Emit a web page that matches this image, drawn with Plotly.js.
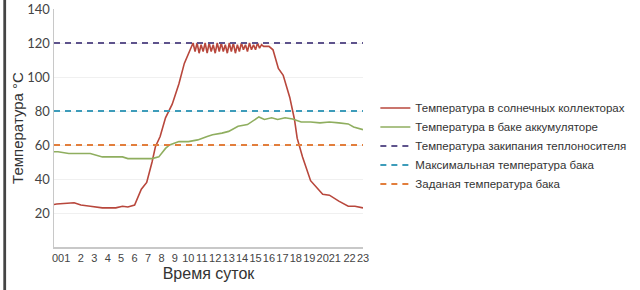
<!DOCTYPE html>
<html>
<head>
<meta charset="utf-8">
<script src="https://cdn.plot.ly/plotly-3.0.1.min.js"></script>
<style>html,body{margin:0;padding:0;background:#fff;}#chart{width:640px;height:290px;}</style>
</head>
<body>
<div id="chart"></div>
<script>
// Temperature in solar collectors (hour, °C)
const collectorHours = [0, 0.2, 1.5, 2.0, 2.7, 3.6, 4.6, 5.1, 5.5, 6.0, 6.5, 6.9, 7.3, 7.55, 7.9, 8.3, 8.8, 9.3, 9.7, 10.2,
  10.35, 10.5, 10.65, 10.8, 10.95, 11.1, 11.25, 11.4, 11.55, 11.7, 11.85, 12.0, 12.15, 12.3, 12.45, 12.6, 12.75, 12.9,
  13.05, 13.2, 13.35, 13.5, 13.65, 13.8, 13.95, 14.1, 14.25, 14.4, 14.55, 14.7, 14.85, 15.0, 15.15, 15.3, 15.45, 15.6,
  16.0, 16.3, 16.7, 17.06, 17.55, 17.9, 18.1, 18.5, 19.1, 20.0, 20.5, 21.2, 21.9, 22.4, 23.0];
const collectorTemp = [25, 25.3, 26, 24.7, 24, 23, 23, 24, 23.5, 24.7, 34, 38, 50, 59, 65, 76, 84, 96, 108, 117,
  120, 115, 120, 114, 119, 115, 120, 114, 120, 115, 119, 114, 120, 115, 120, 115, 119, 114,
  120, 115, 120, 114, 119, 115, 120, 116, 119, 115, 120, 116, 119, 116, 120, 117, 119, 118,
  118, 116, 105, 101, 88, 75, 64, 53, 39, 31, 30.5, 27, 24, 24, 23];

// Temperature in storage tank (hour, °C)
const tankHours = [0, 0.3, 1.1, 2.7, 3.6, 5.1, 5.5, 7.3, 7.8, 8.3, 8.6, 9.3, 10.0, 10.7, 11.4, 11.8, 12.5, 13.0, 13.7, 14.4,
  15.25, 15.66, 16.2, 16.65, 17.2, 17.76, 18.4, 19.1, 19.8, 20.5, 21.2, 21.9, 22.3, 23.0];
const tankTemp = [56, 56, 55, 55, 53, 53, 52, 52, 53, 58, 60, 62, 62, 63, 65, 66, 67, 68, 71, 72,
  76.5, 75, 76, 75, 76, 75.3, 73.5, 73.5, 73, 73.5, 73, 72.4, 70.6, 69];

// Reference levels
const refHours = [0, 23];
const boilingTemp = 120;
const maxTankTemp = 80;
const setTankTemp = 60;

const seriesNames = [
  'Температура в солнечных коллекторах',
  'Температура в баке аккумуляторе',
  'Температура закипания теплоносителя',
  'Максимальная температура бака',
  'Заданая температура бака'
];

const xTickVals = [0.3, 1, 2, 3, 4, 5, 6, 7, 8, 9, 10, 11, 12, 13, 14, 15, 16, 17, 18, 19, 20, 20.9, 22, 23];
const xTickText = ['00', '1', '2', '3', '4', '5', '6', '7', '8', '9', '10', '11', '12', '13', '14', '15', '16', '17', '18', '19', '20', '21', '22', '23'];
const yTickVals = [20, 40, 60, 80, 100, 120, 140];

const traces = [
  {x: collectorHours, y: collectorTemp, name: seriesNames[0], mode: 'lines',
   line: {color: '#b8473c', width: 1.6}},
  {x: tankHours, y: tankTemp, name: seriesNames[1], mode: 'lines',
   line: {color: '#8fae5f', width: 1.6}},
  {x: refHours, y: [boilingTemp, boilingTemp], name: seriesNames[2], mode: 'lines',
   line: {color: '#5e538c', width: 2, dash: '6px,5px'}},
  {x: refHours, y: [maxTankTemp, maxTankTemp], name: seriesNames[3], mode: 'lines',
   line: {color: '#3d9cba', width: 2, dash: '6px,5px'}},
  {x: refHours, y: [setTankTemp, setTankTemp], name: seriesNames[4], mode: 'lines',
   line: {color: '#e27e3c', width: 2, dash: '6px,5px'}}
];

const layout = {
  width: 640, height: 290,
  margin: {l: 54, r: 257, t: 9, b: 43},
  paper_bgcolor: '#ffffff', plot_bgcolor: '#ffffff',
  font: {family: 'Liberation Sans, Arial, sans-serif', color: '#333'},
  showlegend: true,
  legend: {x: 1.04, y: 0.645, xanchor: 'left', yanchor: 'top',
    font: {size: 11.5, color: '#333', family: 'Liberation Sans, Arial, sans-serif'},
    bgcolor: 'rgba(0,0,0,0)', tracegroupgap: 0},
  xaxis: {range: [0, 23], tickvals: xTickVals, ticktext: xTickText, tickangle: 0, showgrid: false,
    zeroline: false, showline: true, linecolor: '#c8c8c8', linewidth: 1.5, ticks: '',
    tickfont: {size: 11, color: '#444', family: 'Liberation Sans, Arial, sans-serif'},
    title: {text: 'Время суток', font: {size: 16, color: '#333'}, standoff: 5}},
  yaxis: {range: [0, 140], tickvals: yTickVals, showgrid: true, gridcolor: '#f0f0f0',
    zeroline: false, showline: true, linecolor: '#c8c8c8', linewidth: 1.5, ticks: '',
    tickfont: {size: 13, color: '#444', family: 'Lato, Open Sans, sans-serif'},
    title: {text: 'Температура °C', font: {size: 15, color: '#333'}, standoff: 0}},
  shapes: [
    {type: 'rect', xref: 'paper', yref: 'paper', x0: -0.164, x1: -0.155, y0: -0.19, y1: 1.05,
     fillcolor: '#444', line: {width: 0}},
    {type: 'rect', xref: 'paper', yref: 'paper', x0: 2.77, x1: 2.8, y0: -0.19, y1: 1.05,
     fillcolor: '#444', line: {width: 0}}
  ]
};

Plotly.newPlot('chart', traces, layout, {staticPlot: true, displayModeBar: false});
</script>
</body>
</html>
